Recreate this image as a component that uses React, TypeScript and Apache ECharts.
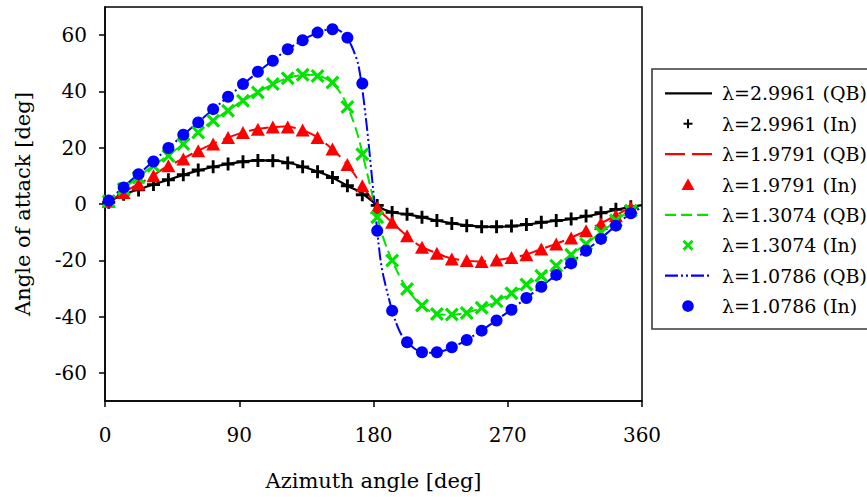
import React, { useEffect, useRef } from "react";
import * as echarts from "echarts";

// Azimuth positions of the "In" markers (deg)
const IN_AZ = [2.5, 12.5, 22.5, 32.5, 42.5, 52.5, 62.5, 72.5, 82.5, 92.5, 102.5, 112.5, 122.5, 132.5, 142.5, 152.5, 162.5, 172.5, 182.5, 192.5, 202.5, 212.5, 222.5, 232.5, 242.5, 252.5, 262.5, 272.5, 282.5, 292.5, 302.5, 312.5, 322.5, 332.5, 342.5, 352.5];

// Azimuth positions of the "QB" curves (deg)
const QB_AZ = [0, 10, 20, 30, 40, 50, 60, 70, 80, 90, 100, 110, 120, 130, 140, 150, 155, 160, 165, 170, 175, 180, 185, 190, 195, 200, 210, 220, 230, 240, 250, 260, 270, 280, 290, 300, 310, 320, 330, 340, 350, 360];

const QB_2_9961 = [0, 2.8, 4.8, 6.5, 8.2, 9.9, 11.5, 12.9, 14.0, 14.9, 15.4, 15.5, 15.0, 13.7, 12.0, 10.0, 8.7, 7.2, 5.8, 4.6, 2.7, 0.6, -1.4, -2.5, -3.2, -3.5, -4.4, -5.6, -6.6, -7.4, -8.0, -8.1, -8.0, -7.5, -6.8, -6.1, -5.5, -4.7, -3.6, -2.4, -1.3, -0.4];
const IN_2_9961 = [0.6, 3.5, 5.0, 6.9, 8.6, 10.4, 12.1, 13.2, 14.2, 15.0, 15.5, 15.4, 14.6, 13.2, 11.5, 9.4, 6.5, 3.3, -0.5, -3.0, -3.6, -4.7, -5.9, -6.9, -7.7, -8.1, -8.1, -7.8, -7.3, -6.5, -5.9, -5.3, -4.3, -3.1, -1.9, -1.0];

const QB_1_9791 = [0, 3.4, 6.4, 9.3, 12.8, 15.5, 18.3, 20.8, 23.1, 25.0, 26.4, 27.2, 27.5, 26.7, 24.5, 20.6, 18.2, 15.5, 12.2, 8.4, 4.6, 0.8, -2.8, -5.3, -7.8, -10.2, -14.5, -17.0, -19.0, -20.0, -20.4, -20.1, -19.3, -18.3, -16.5, -14.6, -12.6, -10.1, -7.5, -4.8, -1.9, -0.4];
const IN_1_9791 = [1.0, 4.1, 7.1, 10.0, 13.6, 16.0, 18.9, 21.3, 23.6, 25.4, 26.6, 27.4, 27.4, 26.3, 23.6, 19.5, 14.0, 6.5, -1.2, -6.5, -11.3, -15.4, -17.5, -19.5, -20.1, -20.4, -19.9, -19.0, -18.0, -16.0, -14.2, -12.1, -9.5, -6.9, -4.2, -1.2];

const QB_1_3074 = [0, 4.5, 8.6, 12.8, 16.4, 20.4, 24.5, 28.7, 32.4, 35.9, 39.0, 41.9, 44.3, 45.7, 45.9, 44.0, 41.5, 37.6, 31.5, 23.5, 12.5, 1.5, -9.5, -17.0, -23.0, -28.0, -35.0, -38.7, -39.4, -38.9, -37.4, -35.2, -32.4, -29.4, -26.3, -22.8, -19.0, -15.2, -11.1, -7.0, -3.0, -0.8];
const IN_1_3074 = [1.0, 5.3, 9.4, 13.6, 17.1, 21.3, 25.4, 29.6, 33.1, 36.7, 39.6, 42.6, 44.7, 45.9, 45.5, 43.2, 34.5, 17.7, -4.7, -20.1, -30.2, -36.1, -39.1, -39.3, -38.7, -36.9, -34.6, -31.7, -28.6, -25.5, -21.9, -18.0, -14.2, -10.1, -5.9, -2.4];

const QB_1_0786 = [0, 4.9, 9.6, 14.0, 18.8, 23.4, 28.0, 32.5, 37.0, 41.4, 45.8, 50.0, 54.0, 57.5, 60.3, 62.0, 62.0, 60.5, 56.5, 49.0, 30.0, 4.0, -21.0, -33.0, -42.0, -47.5, -52.2, -52.9, -51.6, -49.0, -45.8, -42.2, -38.4, -34.4, -30.3, -26.2, -22.0, -17.6, -13.3, -8.8, -4.3, -1.2];
const IN_1_0786 = [1.2, 5.9, 10.6, 15.1, 19.9, 24.6, 29.0, 33.7, 38.1, 42.6, 47.0, 50.9, 55.0, 58.2, 60.9, 62.1, 59.1, 42.8, -9.5, -37.9, -49.1, -52.7, -52.7, -50.9, -48.3, -45.0, -41.4, -37.6, -33.4, -29.4, -25.2, -21.1, -16.6, -12.4, -7.7, -3.3];

const X_TICKS = [0, 90, 180, 270, 360];
const Y_TICKS = [-60, -40, -20, 0, 20, 40, 60];

const LEGEND_LABELS = [
  "λ=2.9961 (QB)",
  "λ=2.9961 (In)",
  "λ=1.9791 (QB)",
  "λ=1.9791 (In)",
  "λ=1.3074 (QB)",
  "λ=1.3074 (In)",
  "λ=1.0786 (QB)",
  "λ=1.0786 (In)",
];

const BLACK = "#000000";
const RED = "#ff0000";
const GREEN = "#00e400";
const BLUE = "#0000ff";
const FONT = "'DejaVu Serif', serif";

const PLUS = "path://M3.9,0H6.1V3.9H10V6.1H6.1V10H3.9V6.1H0V3.9H3.9Z";
const CROSS = "path://M0,1.6L1.6,0L5,3.4L8.4,0L10,1.6L6.6,5L10,8.4L8.4,10L5,6.6L1.6,10L0,8.4L3.4,5Z";

const pairs = (xs: number[], ys: number[]) => xs.map((x, i) => [x, ys[i]]);

export default function App() {
  const ref = useRef<HTMLDivElement>(null);
  useEffect(() => {
    const chart = echarts.init(ref.current!, null, { renderer: "svg" });

    const lineSeries = (name: string, ys: number[], color: string, type: any, width = 2) => ({
      name,
      type: "line",
      data: pairs(QB_AZ, ys),
      symbol: "none",
      smooth: 0.3,
      lineStyle: { color, width, type },
      itemStyle: { color },
      z: 2,
    });
    const markerSeries = (name: string, ys: number[], color: string, symbol: string, size: any) => ({
      name,
      type: "scatter",
      data: pairs(IN_AZ, ys),
      symbol,
      symbolSize: size,
      itemStyle: { color, opacity: 1 },
      z: 3,
    });

    // legend drawn as graphic
    const lx0 = 665, lx1 = 712, lsym = 688, ltext = 722, ly0 = 93.3, lstep = 30.4;
    const legendColors = [BLACK, BLACK, RED, RED, GREEN, GREEN, BLUE, BLUE];
    const legendDash: any[] = [null, null, [20, 7], null, [11, 5], null, [13, 3, 2, 3, 2, 3], null];
    const g: any[] = [
      {
        type: "rect",
        shape: { x: 652, y: 69, width: 240, height: 260 },
        style: { fill: "#fff", stroke: "#3a3a3a", lineWidth: 1.6 },
        z: 10,
      },
    ];
    LEGEND_LABELS.forEach((label, i) => {
      const y = ly0 + lstep * i;
      const c = legendColors[i];
      if (i % 2 === 0) {
        g.push({
          type: "line",
          shape: { x1: lx0, y1: y, x2: lx1, y2: y },
          style: { stroke: c, lineWidth: 2.2, lineDash: legendDash[i] || undefined },
          z: 11,
        });
      } else if (i === 1) {
        g.push({ type: "line", shape: { x1: lsym - 4.5, y1: y, x2: lsym + 4.5, y2: y }, style: { stroke: c, lineWidth: 2 }, z: 11 });
        g.push({ type: "line", shape: { x1: lsym, y1: y - 4.5, x2: lsym, y2: y + 4.5 }, style: { stroke: c, lineWidth: 2 }, z: 11 });
      } else if (i === 3) {
        g.push({ type: "polygon", shape: { points: [[lsym, y - 6], [lsym + 6.5, y + 5.5], [lsym - 6.5, y + 5.5]] }, style: { fill: c }, z: 11 });
      } else if (i === 5) {
        g.push({ type: "line", shape: { x1: lsym - 4.5, y1: y - 4.5, x2: lsym + 4.5, y2: y + 4.5 }, style: { stroke: c, lineWidth: 2.8 }, z: 11 });
        g.push({ type: "line", shape: { x1: lsym - 4.5, y1: y + 4.5, x2: lsym + 4.5, y2: y - 4.5 }, style: { stroke: c, lineWidth: 2.8 }, z: 11 });
      } else {
        g.push({ type: "circle", shape: { cx: lsym, cy: y, r: 5.8 }, style: { fill: c }, z: 11 });
      }
      g.push({
        type: "text",
        style: { text: label, x: ltext, y, fill: "#000", font: `19px ${FONT}`, verticalAlign: "middle", align: "left" },
        z: 11,
      });
    });

    const option: any = {
      animation: false,
      backgroundColor: "#fff",
      grid: {
        left: 105,
        right: 225,
        top: 7,
        bottom: 96,
        show: true,
        borderColor: "#000",
        borderWidth: 1.5,
        containLabel: false,
        outerBoundsMode: "none",
      },
      xAxis: {
        type: "value",
        min: 0,
        max: 360,
        interval: 90,
        name: "Azimuth angle [deg]",
        nameLocation: "middle",
        nameGap: 69,
        nameTextStyle: { fontFamily: FONT, fontSize: 21, color: "#000" },
        axisLine: { show: true, onZero: false, lineStyle: { color: "#000", width: 1.5 } },
        axisTick: { show: true, inside: false, length: 6, lineStyle: { color: "#000", width: 1.5 } },
        axisLabel: { fontFamily: FONT, fontSize: 20, color: "#000", margin: 24, customValues: X_TICKS },
        splitLine: { show: false },
      },
      yAxis: {
        type: "value",
        min: -70,
        max: 70,
        name: "Angle of attack [deg]",
        nameLocation: "middle",
        nameGap: 72,
        nameTextStyle: { fontFamily: FONT, fontSize: 21, color: "#000" },
        axisLine: { show: true, onZero: false, lineStyle: { color: "#000", width: 1.5 } },
        axisTick: { show: true, inside: false, length: 6, lineStyle: { color: "#000", width: 1.5 }, customValues: Y_TICKS },
        axisLabel: { fontFamily: FONT, fontSize: 20, color: "#000", margin: 18, customValues: Y_TICKS },
        splitLine: { show: false },
      },
      series: [
        lineSeries("λ=2.9961 (QB)", QB_2_9961, BLACK, "solid", 2.2),
        lineSeries("λ=1.9791 (QB)", QB_1_9791, RED, [20, 7]),
        lineSeries("λ=1.3074 (QB)", QB_1_3074, GREEN, [11, 5]),
        lineSeries("λ=1.0786 (QB)", QB_1_0786, BLUE, [13, 3, 2, 3, 2, 3]),
        markerSeries("λ=2.9961 (In)", IN_2_9961, BLACK, PLUS, 13),
        markerSeries("λ=1.9791 (In)", IN_1_9791, RED, "triangle", [14, 13]),
        markerSeries("λ=1.3074 (In)", IN_1_3074, GREEN, CROSS, 14),
        markerSeries("λ=1.0786 (In)", IN_1_0786, BLUE, "circle", 12),
      ],
      graphic: g,
    };
    chart.setOption(option);
    return () => chart.dispose();
  }, []);
  return (
    <div
      ref={ref}
      style={{ position: "absolute", left: 0, top: 0, width: 867, height: 497, background: "#fff" }}
    />
  );
}
